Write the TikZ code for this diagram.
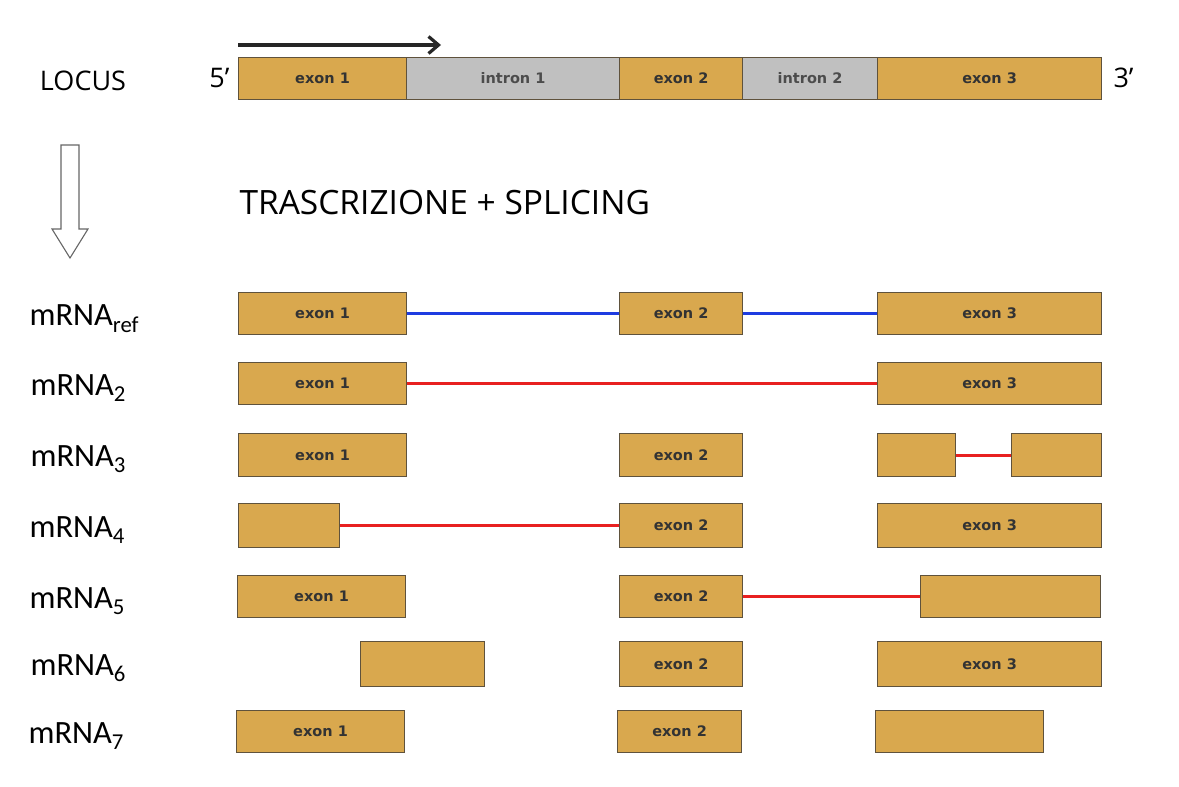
\documentclass[tikz,border=0pt]{standalone}
\usepackage{fontspec}
\setmainfont{Open Sans}
\newfontfamily\lblfont{Carlito}
\newfontfamily\boxfont{DejaVu Sans}
\usetikzlibrary{arrows.meta}
\definecolor{exonfill}{RGB}{217,168,78}
\definecolor{exonline}{RGB}{95,82,60}
\definecolor{intronfill}{RGB}{192,192,192}
\definecolor{splblue}{RGB}{30,60,225}
\definecolor{splred}{RGB}{232,32,32}
\tikzset{
  block/.style={anchor=north west, draw=exonline, line width=1.1pt, inner sep=0pt,
    minimum height=42pt, font=\boxfont\bfseries\fontsize{14.5}{16}\selectfont, text=black!80},
  exon/.style={block, fill=exonfill},
  intron/.style={block, fill=intronfill, text=black!70},
  rowlabel/.style={anchor=base west, font=\lblfont\fontsize{32.5}{36}\selectfont},
  bigtext/.style={font=\fontsize{27}{30}\selectfont},
  joinblue/.style={splblue, line width=3pt},
  joinred/.style={splred, line width=3pt}
}
\begin{document}
\begin{tikzpicture}[x=1pt,y=-1pt]
\useasboundingbox (0,0) rectangle (1179,787);
% locus
\node[exon, minimum width=168pt] (lx1) at (238,57) {exon 1};
\node[intron, minimum width=213pt] (li1) at (406,57) {intron 1};
\node[exon, minimum width=123pt] (lx2) at (619,57) {exon 2};
\node[intron, minimum width=135pt] (li2) at (742,57) {intron 2};
\node[exon, minimum width=224pt] (lx3) at (877,57) {exon 3};
\node[bigtext, anchor=east] (five) at (233,78) {5’};
\node[bigtext, anchor=west] (three) at (1110,78) {3’};
\node[bigtext] (locus) at (83,81) {LOCUS};
\coordinate (tss) at (238,45);
\coordinate (tssend) at (441,45);
\draw[line width=3.2pt, black!85, -{Straight Barb[length=10pt,width=17pt]}] (tss) -- (tssend);
% down arrow
\draw[black!60, line width=1.1pt, fill=white] (61,145) -- (79,145) -- (79,229) -- (88,229)
  -- (70,258) -- (52,229) -- (61,229) -- cycle;
\node[bigtext, font=\fontsize{33.5}{37}\selectfont, anchor=west] (title) at (236,203) {TRASCRIZIONE + SPLICING};
% mRNA ref
\node[rowlabel] (lref) at (26,325) {mRNA\textsubscript{ref}};
\node[exon, minimum width=168pt] (ra1) at (238,292) {exon 1};
\node[exon, minimum width=123pt] (ra2) at (619,292) {exon 2};
\node[exon, minimum width=224pt] (ra3) at (877,292) {exon 3};
\draw[joinblue] (ra1.east) -- (ra2.west);
\draw[joinblue] (ra2.east) -- (ra3.west);
% mRNA 2
\node[rowlabel] (l2) at (27,395) {mRNA\textsubscript{2}};
\node[exon, minimum width=168pt] (rb1) at (238,362) {exon 1};
\node[exon, minimum width=224pt] (rb3) at (877,362) {exon 3};
\draw[joinred] (rb1.east) -- (rb3.west);
% mRNA 3
\node[rowlabel] (l3) at (27,466) {mRNA\textsubscript{3}};
\node[exon, minimum width=168pt, minimum height=43pt] (rc1) at (238,433) {exon 1};
\node[exon, minimum width=123pt, minimum height=43pt] (rc2) at (619,433) {exon 2};
\node[exon, minimum width=78pt, minimum height=43pt] (rc3) at (877,433) {};
\node[exon, minimum width=90pt, minimum height=43pt] (rc4) at (1011,433) {};
\draw[joinred] (rc3.east) -- (rc4.west);
% mRNA 4
\node[rowlabel] (l4) at (26,537) {mRNA\textsubscript{4}};
\node[exon, minimum width=101pt, minimum height=44pt] (rd1) at (238,503) {};
\node[exon, minimum width=123pt, minimum height=44pt] (rd2) at (619,503) {exon 2};
\node[exon, minimum width=224pt, minimum height=44pt] (rd3) at (877,503) {exon 3};
\draw[joinred] (rd1.east) -- (rd2.west);
% mRNA 5
\node[rowlabel] (l5) at (26,608) {mRNA\textsubscript{5}};
\node[exon, minimum width=168pt] (re1) at (237,575) {exon 1};
\node[exon, minimum width=123pt] (re2) at (619,575) {exon 2};
\node[exon, minimum width=180pt] (re3) at (920,575) {};
\draw[joinred] (re2.east) -- (re3.west);
% mRNA 6
\node[rowlabel] (l6) at (27,675) {mRNA\textsubscript{6}};
\node[exon, minimum width=124pt, minimum height=45pt] (rf1) at (360,641) {};
\node[exon, minimum width=123pt, minimum height=45pt] (rf2) at (619,641) {exon 2};
\node[exon, minimum width=224pt, minimum height=45pt] (rf3) at (877,641) {exon 3};
% mRNA 7
\node[rowlabel] (l7) at (25,743) {mRNA\textsubscript{7}};
\node[exon, minimum width=168pt] (rg1) at (236,710) {exon 1};
\node[exon, minimum width=124pt] (rg2) at (617,710) {exon 2};
\node[exon, minimum width=168pt] (rg3) at (875,710) {};
\end{tikzpicture}
\end{document}
